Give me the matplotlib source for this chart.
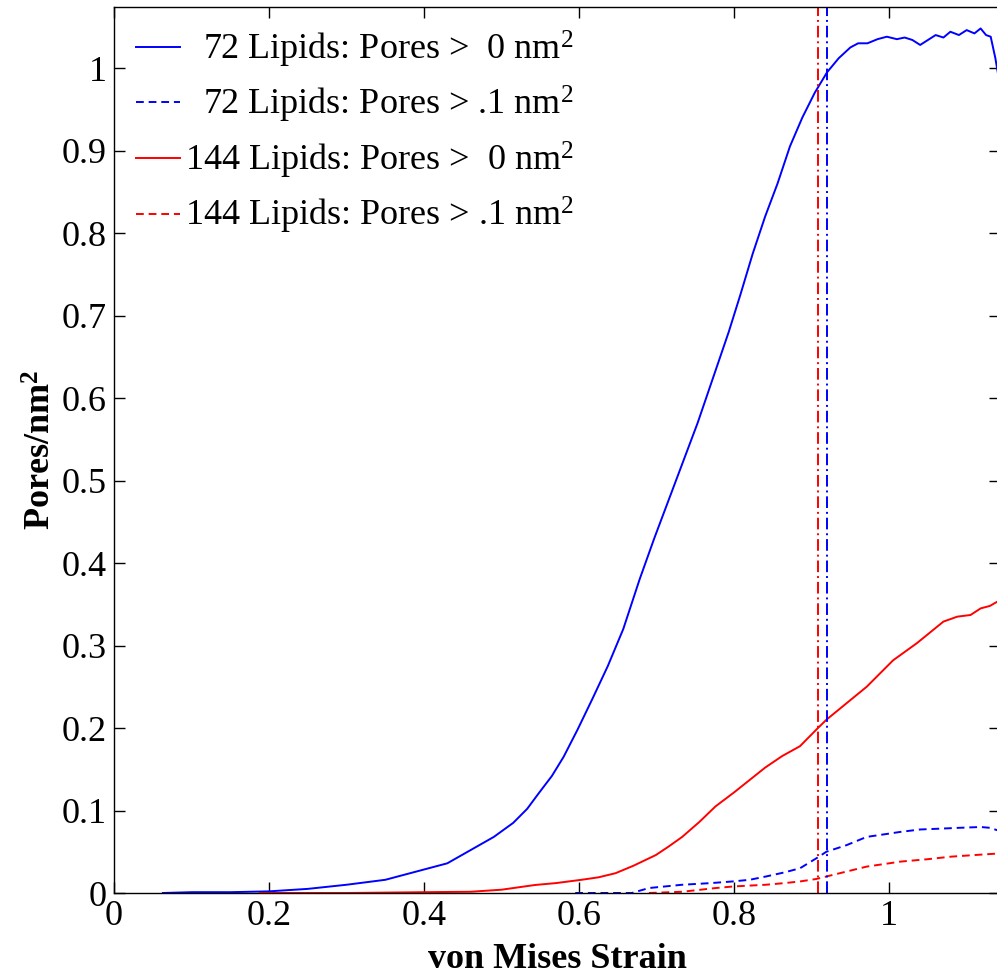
import matplotlib
matplotlib.use("Agg")
import matplotlib.pyplot as plt

# --- данные
x_72_all = [0.063, 0.10, 0.15, 0.20, 0.25, 0.30, 0.35, 0.39, 0.43, 0.46, 0.49,
            0.515, 0.533, 0.548, 0.565, 0.58, 0.598, 0.617, 0.637, 0.657, 0.678,
            0.697, 0.717, 0.737, 0.753, 0.773, 0.793, 0.808, 0.824, 0.84, 0.856,
            0.872, 0.888, 0.904, 0.92, 0.935, 0.95, 0.96, 0.972, 0.985, 0.997,
            1.01, 1.02, 1.03, 1.04, 1.05, 1.06, 1.07, 1.079, 1.09, 1.10, 1.11,
            1.118, 1.125, 1.131, 1.137, 1.141, 1.143]
y_72_all = [0.0, 0.001, 0.001, 0.002, 0.005, 0.010, 0.016, 0.026, 0.036, 0.052, 0.068,
            0.085, 0.102, 0.121, 0.142, 0.165, 0.198, 0.235, 0.275, 0.32, 0.38,
            0.43, 0.48, 0.53, 0.57, 0.625, 0.68, 0.725, 0.775, 0.82, 0.86,
            0.905, 0.94, 0.97, 0.995, 1.012, 1.025, 1.03, 1.03, 1.035, 1.038,
            1.035, 1.037, 1.034, 1.028, 1.034, 1.04, 1.037, 1.044, 1.04, 1.046, 1.042,
            1.048, 1.04, 1.038, 1.012, 0.99, 0.97]

x_72_big = [0.595, 0.63, 0.668, 0.69, 0.733, 0.77, 0.798, 0.82, 0.841, 0.865,
            0.885, 0.906, 0.919, 0.945, 0.971, 1.0, 1.014, 1.04, 1.066, 1.09,
            1.118, 1.13, 1.143]
y_72_big = [0.0, 0.0, 0.0, 0.006, 0.010, 0.012, 0.014, 0.016, 0.020, 0.025,
            0.030, 0.042, 0.050, 0.058, 0.068, 0.072, 0.074, 0.077, 0.078, 0.079,
            0.080, 0.079, 0.075]

x_144_all = [0.188, 0.25, 0.30, 0.35, 0.40, 0.46, 0.50, 0.543, 0.57, 0.603, 0.625,
             0.647, 0.67, 0.699, 0.715, 0.733, 0.755, 0.776, 0.80, 0.82, 0.84,
             0.862, 0.885, 0.906, 0.919, 0.945, 0.971, 1.005, 1.036, 1.07, 1.088,
             1.105, 1.118, 1.13, 1.143]
y_144_all = [0.0, 0.0, 0.0, 0.0005, 0.001, 0.0015, 0.004, 0.0097, 0.012, 0.016, 0.019,
             0.024, 0.033, 0.046, 0.056, 0.068, 0.086, 0.105, 0.122, 0.137, 0.152,
             0.166, 0.178, 0.198, 0.21, 0.23, 0.25, 0.282, 0.303, 0.329, 0.335,
             0.337, 0.345, 0.348, 0.355]

x_144_big = [0.69, 0.733, 0.776, 0.80, 0.841, 0.865, 0.885, 0.906, 0.919, 0.945,
             0.971, 1.0, 1.014, 1.05, 1.079, 1.11, 1.143]
y_144_big = [0.0, 0.0015, 0.006, 0.008, 0.010, 0.012, 0.014, 0.017, 0.020, 0.026,
             0.032, 0.036, 0.038, 0.041, 0.044, 0.046, 0.048]

# вертикальные линии (момент разрыва)
x_fail_72 = 0.9196
x_fail_144 = 0.908

labels = ["  72 Lipids: Pores >  0 nm$^2$",
          "  72 Lipids: Pores > .1 nm$^2$",
          "144 Lipids: Pores >  0 nm$^2$",
          "144 Lipids: Pores > .1 nm$^2$"]

plt.rcParams['font.family'] = ['Liberation Serif', 'DejaVu Serif']
plt.rcParams['mathtext.fontset'] = 'custom'
plt.rcParams['mathtext.rm'] = 'Liberation Serif'
plt.rcParams['mathtext.it'] = 'Liberation Serif:italic'
plt.rcParams['mathtext.bf'] = 'Liberation Serif:bold'

fs = 26
fig = plt.figure(figsize=(9.97, 9.74), dpi=100)
ax = fig.add_axes([114 / 997, 81 / 974, 886 / 997, 886 / 974])

lw = 1.4
ax.plot(x_72_all, y_72_all, color='#0000ff', lw=lw, label=labels[0])
ax.plot(x_72_big, y_72_big, color='#0000ff', lw=lw, ls=(0, (4, 2.5)), label=labels[1])
ax.plot(x_144_all, y_144_all, color='#ff0000', lw=lw, label=labels[2])
ax.plot(x_144_big, y_144_big, color='#ff0000', lw=lw, ls=(0, (4, 2.5)), label=labels[3])

ax.axvline(x_fail_144, color='#ff0000', lw=lw, ls=(0, (6, 2, 1, 2)))
ax.axvline(x_fail_72, color='#0000ff', lw=lw, ls=(0, (6, 2, 1, 2)))

ax.set_xlim(0, 1.143)
ax.set_ylim(0, 1.074)
ax.set_xticks([0, 0.2, 0.4, 0.6, 0.8, 1])
ax.set_xticklabels(['0', '0.2', '0.4', '0.6', '0.8', '1'])
ax.set_yticks([i / 10 for i in range(11)])
ax.set_yticklabels(['0'] + ['0.%d' % i for i in range(1, 10)] + ['1'])
ax.tick_params(direction='in', length=8, width=1, top=True, right=True,
               labelsize=fs, pad=5)
for sp in ax.spines.values():
    sp.set_linewidth(1)

ax.set_xlabel('von Mises Strain', fontsize=fs, fontweight='bold', labelpad=7)
ax.set_ylabel(r'Pores/nm$^{\mathbf{2}}$', fontsize=fs, fontweight='bold', labelpad=2)

ax.legend(loc='upper left', bbox_to_anchor=(0.0, 1.0), frameon=False, fontsize=fs,
          handlelength=1.22, handletextpad=0.14, labelspacing=0.4,
          borderaxespad=0.2)

fig.savefig('out.png', dpi=100)
